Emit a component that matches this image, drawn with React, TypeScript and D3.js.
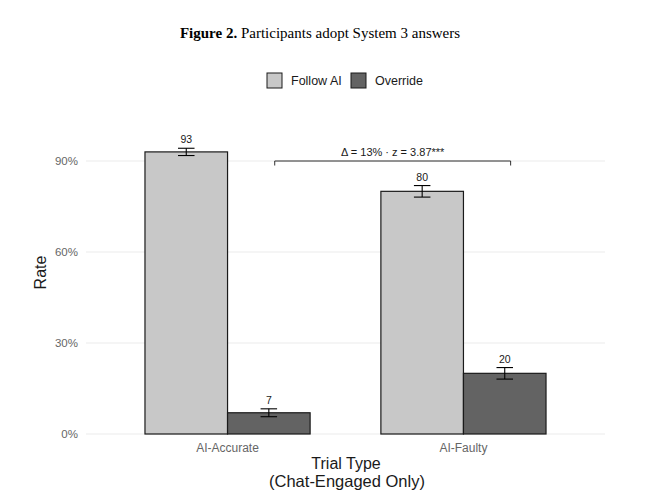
import React from 'react';
import { scaleBand, scaleLinear } from 'd3';

const trialTypes = ['AI-Accurate', 'AI-Faulty'];
const choices = ['Follow AI', 'Override'];
const followRate = [93, 80];
const overrideRate = [7, 20];
const followErr = [1.2, 1.9];
const overrideErr = [1.3, 1.9];
const yTicks = [0, 30, 60, 90];
const fills = ['#c8c8c8', '#636363'];

const W = 648;
const H = 493;
const left = 86;
const right = 605;
const sans = 'Liberation Sans, Arial, Helvetica, sans-serif';

const App: React.FC = () => {
  // ggplot-style discrete expansion: 0.6 units each side, bar group width 0.7
  const x = scaleBand()
    .domain(trialTypes)
    .range([left, right])
    .paddingInner(0.3)
    .paddingOuter(0.25);
  const inner = scaleBand().domain(choices).range([0, x.bandwidth()]);
  const y = scaleLinear().domain([0, 90]).range([434, 161]);
  const step = x.step();
  const centre = (t: string) => x(t)! + x.bandwidth() / 2;

  const bars = trialTypes.flatMap((t, i) => [
    { t, c: choices[0], v: followRate[i], e: followErr[i] },
    { t, c: choices[1], v: overrideRate[i], e: overrideErr[i] },
  ]);
  const capW = inner.bandwidth() * 0.2;

  const brX1 = centre(trialTypes[0]) + step * 0.2;
  const brX2 = centre(trialTypes[1]) + step * 0.2;
  const brY = y(90);

  return (
    <svg width={W} height={H} style={{ position: 'absolute', left: 0, top: 0 }}>
      <rect width={W} height={H} fill="#fff" />
      <text x={320} y={38} textAnchor="middle" fontFamily="Liberation Serif, Times New Roman, serif" fontSize={15}>
        <tspan fontWeight="bold">Figure 2.</tspan> Participants adopt System 3 answers
      </text>

      {/* legend */}
      <g fontFamily={sans} fontSize={12.5} fill="#1a1a1a">
        <rect x={267} y={73} width={15} height={15} fill={fills[0]} stroke="#1a1a1a" strokeWidth={1} />
        <text x={291} y={85}>Follow AI</text>
        <rect x={351} y={73} width={15} height={15} fill={fills[1]} stroke="#1a1a1a" strokeWidth={1} />
        <text x={375} y={85}>Override</text>
      </g>

      {/* grid */}
      {yTicks.map((d) => (
        <g key={d}>
          <line x1={left} x2={right} y1={y(d)} y2={y(d)} stroke="#ebebeb" strokeWidth={1.1} />
          <text x={78} y={y(d) + 4} textAnchor="end" fontFamily={sans} fontSize={11.5} fill="#666">
            {d}%
          </text>
        </g>
      ))}

      {/* bars */}
      {bars.map((b) => {
        const bx = x(b.t)! + inner(b.c)!;
        const cx = bx + inner.bandwidth() / 2;
        return (
          <g key={b.t + b.c}>
            <rect
              x={bx}
              y={y(b.v)}
              width={inner.bandwidth()}
              height={y(0) - y(b.v)}
              fill={b.c === choices[0] ? fills[0] : fills[1]}
              stroke="#1a1a1a"
              strokeWidth={1.2}
            />
            <line x1={cx} x2={cx} y1={y(b.v + b.e)} y2={y(b.v - b.e)} stroke="#000" strokeWidth={1.1} />
            <line x1={cx - capW / 2} x2={cx + capW / 2} y1={y(b.v + b.e)} y2={y(b.v + b.e)} stroke="#000" strokeWidth={1.1} />
            <line x1={cx - capW / 2} x2={cx + capW / 2} y1={y(b.v - b.e)} y2={y(b.v - b.e)} stroke="#000" strokeWidth={1.1} />
            <text x={cx} y={y(b.v + b.e) - 5} textAnchor="middle" fontFamily={sans} fontSize={10.5} fill="#1a1a1a">
              {b.v}
            </text>
          </g>
        );
      })}

      {/* significance bracket */}
      <path
        d={`M${brX1},${brY + 4.5}V${brY}H${brX2}V${brY + 4.5}`}
        fill="none"
        stroke="#1a1a1a"
        strokeWidth={0.9}
      />
      <text x={(brX1 + brX2) / 2} y={brY - 5.5} textAnchor="middle" fontFamily={sans} fontSize={11} fill="#1a1a1a">
        Δ = 13% · z = 3.87***
      </text>

      {/* x labels */}
      {trialTypes.map((t) => (
        <text key={t} x={centre(t)} y={451.5} textAnchor="middle" fontFamily={sans} fontSize={12} fill="#666">
          {t}
        </text>
      ))}
      <text x={346} y={469} textAnchor="middle" fontFamily={sans} fontSize={16} fill="#1a1a1a">
        Trial Type
      </text>
      <text x={347} y={487} textAnchor="middle" fontFamily={sans} fontSize={16.5} fill="#1a1a1a">
        (Chat-Engaged Only)
      </text>
      <text
        transform={`translate(46,${(y(0) + y(90)) / 2 - 25}) rotate(-90)`}
        textAnchor="middle"
        fontFamily={sans}
        fontSize={16}
        fill="#1a1a1a"
      >
        Rate
      </text>
    </svg>
  );
};

export default App;
